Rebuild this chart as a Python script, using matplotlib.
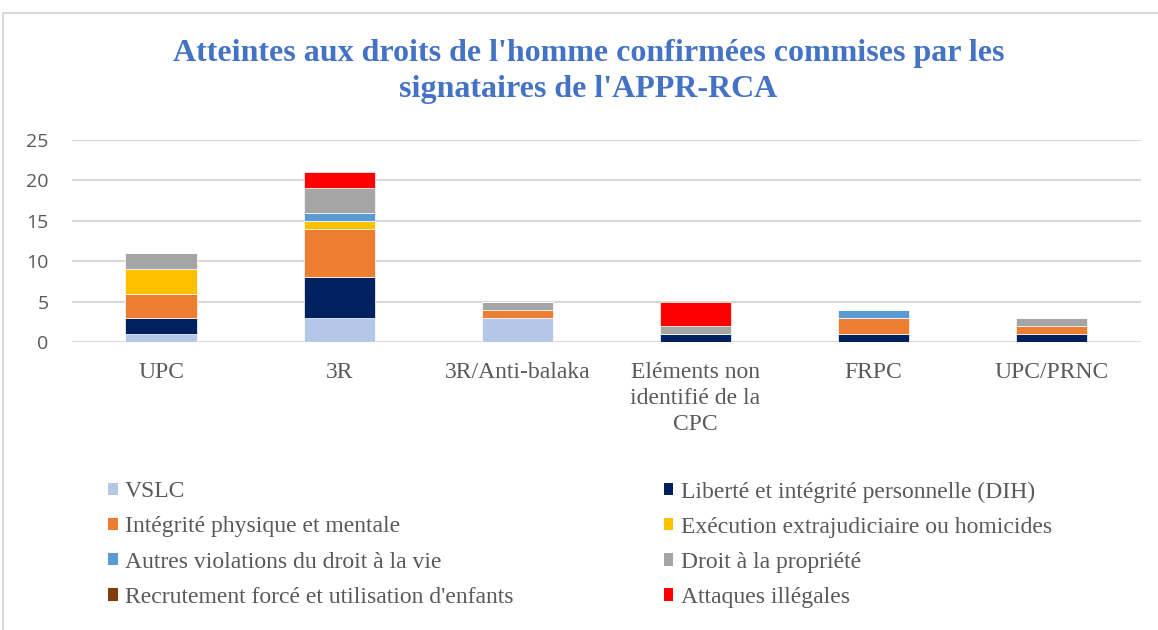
import numpy as np
from matplotlib import pyplot as plt
from matplotlib.patches import Patch, Rectangle

# categories and series
groups = ['UPC', '3R', '3R/Anti-balaka', 'Eléments non\nidentifié de la\nCPC', 'FRPC', 'UPC/PRNC']

series_names = ['VSLC',
                'Liberté et intégrité personnelle (DIH)',
                'Intégrité physique et mentale',
                'Exécution extrajudiciaire ou homicides',
                'Autres violations du droit à la vie',
                'Droit à la propriété',
                "Recrutement forcé et utilisation d'enfants",
                'Attaques illégales']

vslc        = [1, 3, 3, 0, 0, 0]
liberte     = [2, 5, 0, 1, 1, 1]
integrite   = [3, 6, 1, 0, 2, 1]
execution   = [3, 1, 0, 0, 0, 0]
autres      = [0, 1, 0, 0, 1, 0]
propriete   = [2, 3, 1, 1, 0, 1]
recrutement = [0, 0, 0, 0, 0, 0]
attaques    = [0, 2, 0, 3, 0, 0]

colors = ['#B4C7E7', '#002060', '#ED7D31', '#FFC000',
          '#5B9BD5', '#A5A5A5', '#843C0C', '#FF0000']

serif = 'Liberation Serif'
grey_txt = '#595959'

fig = plt.figure(figsize=(11.58, 6.3), dpi=100)
ax = fig.add_axes([0.0622, 0.457, 0.923, 0.321])

x = np.arange(len(groups))
bottom = np.zeros(len(groups))
data = [vslc, liberte, integrite, execution, autres, propriete, recrutement, attaques]
for vals, col in zip(data, colors):
    vals = np.array(vals, dtype=float)
    ax.bar(x, vals, 0.4, bottom=bottom, color=col, edgecolor='white', linewidth=0.5, zorder=3)
    bottom += vals

ax.set_xlim(-0.5, len(groups) - 0.5)
ax.set_ylim(0, 25)
ax.set_yticks(np.arange(0, 26, 5))
ax.yaxis.grid(True, color='#D9D9D9', linewidth=1.5, zorder=0)
ax.set_axisbelow(True)
for s in ax.spines.values():
    s.set_visible(False)
ax.tick_params(axis='both', length=0)
ax.tick_params(axis='y', labelsize=14, labelcolor=grey_txt, pad=17)
for t in ax.get_yticklabels():
    t.set_fontfamily('Open Sans')
ax.set_xticks(x)
ax.set_xticklabels(groups, fontfamily=serif, fontsize=17, color=grey_txt, linespacing=1.32)
ax.tick_params(axis='x', pad=14)

fig.text(0.508, 0.8865, "Atteintes aux droits de l'homme confirmées commises par les\nsignataires de l'APPR-RCA",
         ha='center', va='center', fontfamily=serif, fontweight='bold', fontsize=23,
         color='#4472C4', linespacing=1.3)

# chart border
fig.patches.append(Rectangle((0.003, -0.01), 1.1, 1 - 13/630 + 0.01, transform=fig.transFigure,
                             fill=False, edgecolor='#D9D9D9', linewidth=1.5))

handles = [Patch(facecolor=c) for c in colors]
for idx, xpos in [([0, 2, 4, 6], 0.093), ([1, 3, 5, 7], 0.573)]:
    leg = fig.legend([handles[i] for i in idx], [series_names[i] for i in idx],
                     loc='upper left', bbox_to_anchor=(xpos, 0.236), frameon=False,
                     prop={'family': serif, 'size': 17}, handlelength=0.42, handleheight=0.42,
                     handletextpad=0.3, labelspacing=0.6, borderaxespad=0, borderpad=0)
    for t in leg.get_texts():
        t.set_color(grey_txt)

plt.savefig('out.png', dpi=100)
